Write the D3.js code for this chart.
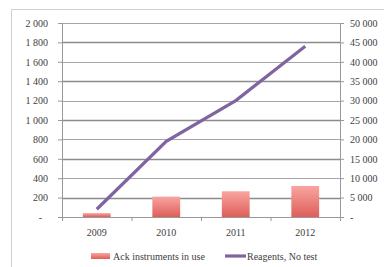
<!DOCTYPE html>
<meta charset="utf-8">
<script src="https://d3js.org/d3.v7.min.js"></script>
<style>
body { margin: 0; background: #fff; }
text { font-family: "Liberation Serif", "DejaVu Serif", serif; font-size: 10px; fill: #404040; }
</style>
<div id="chart"></div>
<script>
// data
var years = ["2009", "2010", "2011", "2012"];
var instruments = [40, 210, 265, 320];          // left axis (bars)
var reagents = [2000, 19500, 30000, 44000];     // right axis (line)
var leftTicks = [0, 200, 400, 600, 800, 1000, 1200, 1400, 1600, 1800, 2000];
var rightTicks = [0, 5000, 10000, 15000, 20000, 25000, 30000, 35000, 40000, 45000, 50000];

var W = 384, H = 267;
var margin = {top: 23, right: 44, bottom: 50, left: 62};
var width = W - margin.left - margin.right,
    height = H - margin.top - margin.bottom;

var svg = d3.select("#chart").append("svg")
    .attr("width", W).attr("height", H);

// chart frame
svg.append("rect")
    .attr("x", 11.5).attr("y", 9.5)
    .attr("width", W).attr("height", H)
    .attr("fill", "none").attr("stroke", "#d0d0d0");

var defs = svg.append("defs");
var grad = defs.append("linearGradient").attr("id", "barGrad")
    .attr("x1", 0).attr("y1", 0).attr("x2", 0).attr("y2", 1);
grad.append("stop").attr("offset", "0%").attr("stop-color", "#f9a5a1");
grad.append("stop").attr("offset", "100%").attr("stop-color", "#de5e58");

var g = svg.append("g").attr("transform", "translate(" + margin.left + "," + margin.top + ")");

var x = d3.scaleBand().domain(years).range([0, width]);
var yL = d3.scaleLinear().domain([0, 2000]).range([height, 0]);
var yR = d3.scaleLinear().domain([0, 50000]).range([height, 0]);

function fmt(d) {
  return d === 0 ? "-" : d3.format(",")(d).replace(/,/g, " ");
}

// gridlines
g.append("g").selectAll("line")
  .data(leftTicks.slice(1))
  .enter().append("line")
    .attr("x1", 0).attr("x2", width)
    .attr("y1", function(d) { return Math.round(yL(d)) + 0.5; })
    .attr("y2", function(d) { return Math.round(yL(d)) + 0.5; })
    .attr("stroke", function(d, i) { return i % 2 ? "#a6a6a6" : "#8c8c8c"; })
    .attr("stroke-width", function(d, i) { return i % 2 ? 1 : 1.6; });

// bars
var bw = x.bandwidth() * 0.4;
g.append("g").selectAll("rect")
  .data(instruments)
  .enter().append("rect")
    .attr("x", function(d, i) { return x(years[i]) + (x.bandwidth() - bw) / 2; })
    .attr("y", function(d) { return yL(d); })
    .attr("width", bw)
    .attr("height", function(d) { return height - yL(d); })
    .attr("fill", "url(#barGrad)");

// left axis
var axL = g.append("g")
  .call(d3.axisLeft(yL).tickValues(leftTicks).tickSize(4).tickPadding(10).tickFormat(fmt));
axL.select(".domain").attr("stroke", "#999");
axL.selectAll(".tick line").attr("stroke", "#999");
axL.selectAll(".tick text").filter(function(d) { return d === 0; }).attr("dx", "-6");

// right axis
var axR = g.append("g").attr("transform", "translate(" + width + ",0)")
  .call(d3.axisRight(yR).tickValues(rightTicks).tickSize(4).tickPadding(6).tickFormat(fmt));
axR.select(".domain").attr("stroke", "#999");
axR.selectAll(".tick line").attr("stroke", "#999");

// bottom axis with ticks between categories
var axB = g.append("g").attr("transform", "translate(0," + height + ")")
  .call(d3.axisBottom(x).tickSize(0).tickPadding(12));
axB.select(".domain").attr("stroke", "#999");
axB.selectAll(".sep")
  .data(years.concat(["end"]))
  .enter().append("line")
    .attr("x1", function(d, i) { return i * x.step() + 0.5; })
    .attr("x2", function(d, i) { return i * x.step() + 0.5; })
    .attr("y1", 0).attr("y2", 4)
    .attr("stroke", "#999");

// line
var line = d3.line()
    .x(function(d, i) { return x(years[i]) + x.bandwidth() / 2; })
    .y(function(d) { return yR(d); });
g.append("path")
    .datum(reagents)
    .attr("d", line)
    .attr("fill", "none")
    .attr("stroke", "#8064a2")
    .attr("stroke-width", 3.2);

// legend
var lg = svg.append("g").attr("transform", "translate(0,256)");
lg.append("rect").attr("x", 91).attr("y", -3).attr("width", 19).attr("height", 6).attr("fill", "url(#barGrad)");
lg.append("text").attr("x", 113).attr("y", 3.5).text("Ack instruments in use");
lg.append("line").attr("x1", 225).attr("x2", 246).attr("y1", 0).attr("y2", 0)
  .attr("stroke", "#8064a2").attr("stroke-width", 3.2);
lg.append("text").attr("x", 247).attr("y", 3.5).text("Reagents, No test");
</script>
